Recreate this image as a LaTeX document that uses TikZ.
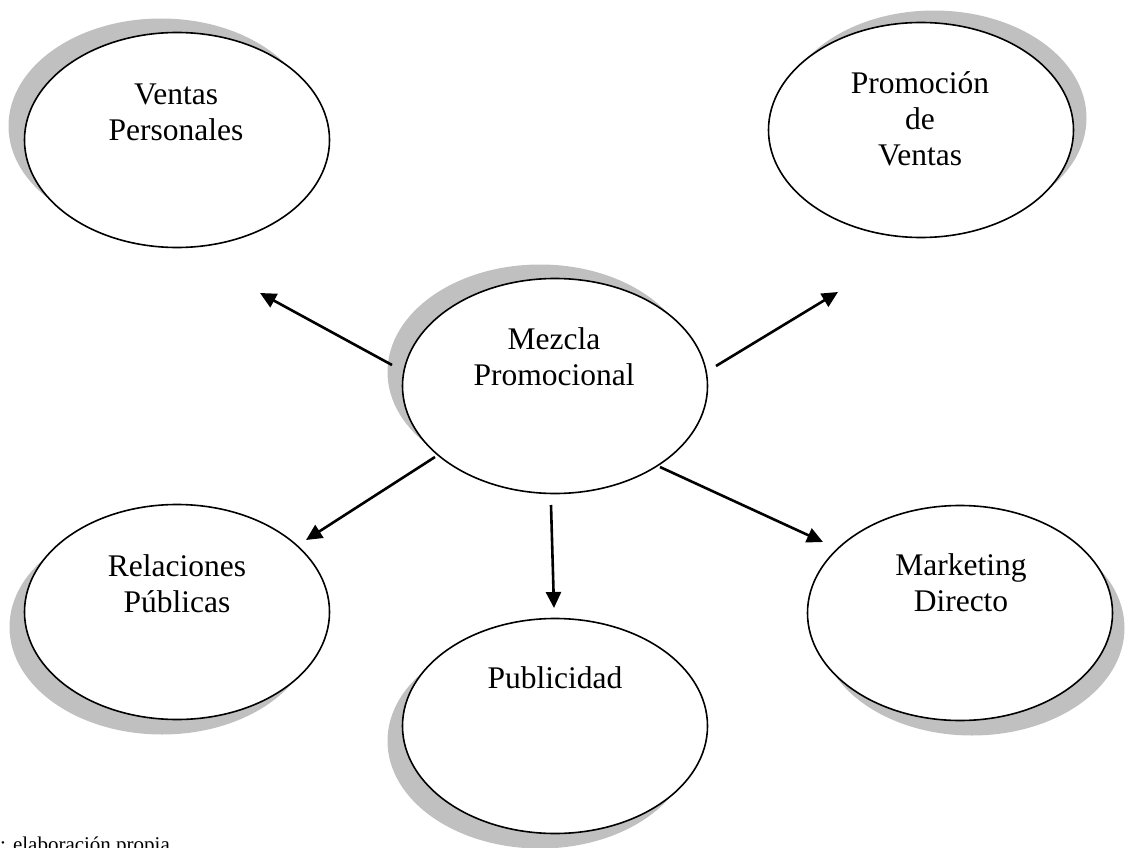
\documentclass[tikz,border=0pt]{standalone}
\usepackage{fontspec}
\setmainfont{Liberation Serif}
\usetikzlibrary{arrows.meta,shapes.geometric}
\definecolor{shadowgray}{RGB}{192,192,192}
\begin{document}
\begin{tikzpicture}[x=1pt,y=-1pt,
  bubble/.style={draw=black, line width=1.6pt, fill=white, ellipse, minimum width=305pt, minimum height=215pt, inner sep=0pt},
  shadowbubble/.style={fill=shadowgray, ellipse, minimum width=305pt, minimum height=215pt, inner sep=0pt},
  caption/.style={font=\fontsize{31.5}{36}\selectfont, align=center, inner sep=0pt},
  arrow/.style={line width=2.6pt, -{Triangle[length=16pt,width=15pt]}}]
\useasboundingbox (0,0) rectangle (1125,848);
% shadows
\node[shadowbubble] (vp-s) at (161,126) {};
\node[shadowbubble] (pv-s) at (934,118) {};
\node[shadowbubble] (mz-s) at (540,372) {};
\node[shadowbubble] (rp-s) at (162,627) {};
\node[shadowbubble] (pb-s) at (540,741) {};
\node[shadowbubble] (md-s) at (972,628) {};
% ellipses
\node[bubble] (vp) at (177,140) {};
\node[bubble] (pv) at (921,130) {};
\node[bubble] (mz) at (555,386) {};
\node[bubble] (rp) at (177,612) {};
\node[bubble] (pb) at (555,726) {};
\node[bubble] (md) at (960,613) {};
% texts
\node[caption] (vp-t) at (176,112) {Ventas\\Personales};
\node[caption] (pv-t) at (920,119) {Promoción\\de\\Ventas};
\node[caption] (mz-t) at (554,357) {Mezcla\\Promocional};
\node[caption] (rp-t) at (177,584) {Relaciones\\Públicas};
\node[caption] (pb-t) at (555,678) {Publicidad};
\node[caption] (md-t) at (961,583) {Marketing\\Directo};
% arrow end points
\coordinate (a1s) at (392,365); \coordinate (a1e) at (260,293);
\coordinate (a2s) at (716,366); \coordinate (a2e) at (838,292);
\coordinate (a3s) at (435,457); \coordinate (a3e) at (306,540);
\coordinate (a4s) at (551,505); \coordinate (a4e) at (554,608);
\coordinate (a5s) at (660,467); \coordinate (a5e) at (823,542);
\draw[arrow] (a1s) -- (a1e);
\draw[arrow] (a2s) -- (a2e);
\draw[arrow] (a3s) -- (a3e);
\draw[arrow] (a4s) -- (a4e);
\draw[arrow] (a5s) -- (a5e);
% source note
\node[anchor=base west, font=\fontsize{21}{25}\selectfont, inner sep=0pt] (src) at (0,851) {: elaboración propia};
\end{tikzpicture}
\end{document}
